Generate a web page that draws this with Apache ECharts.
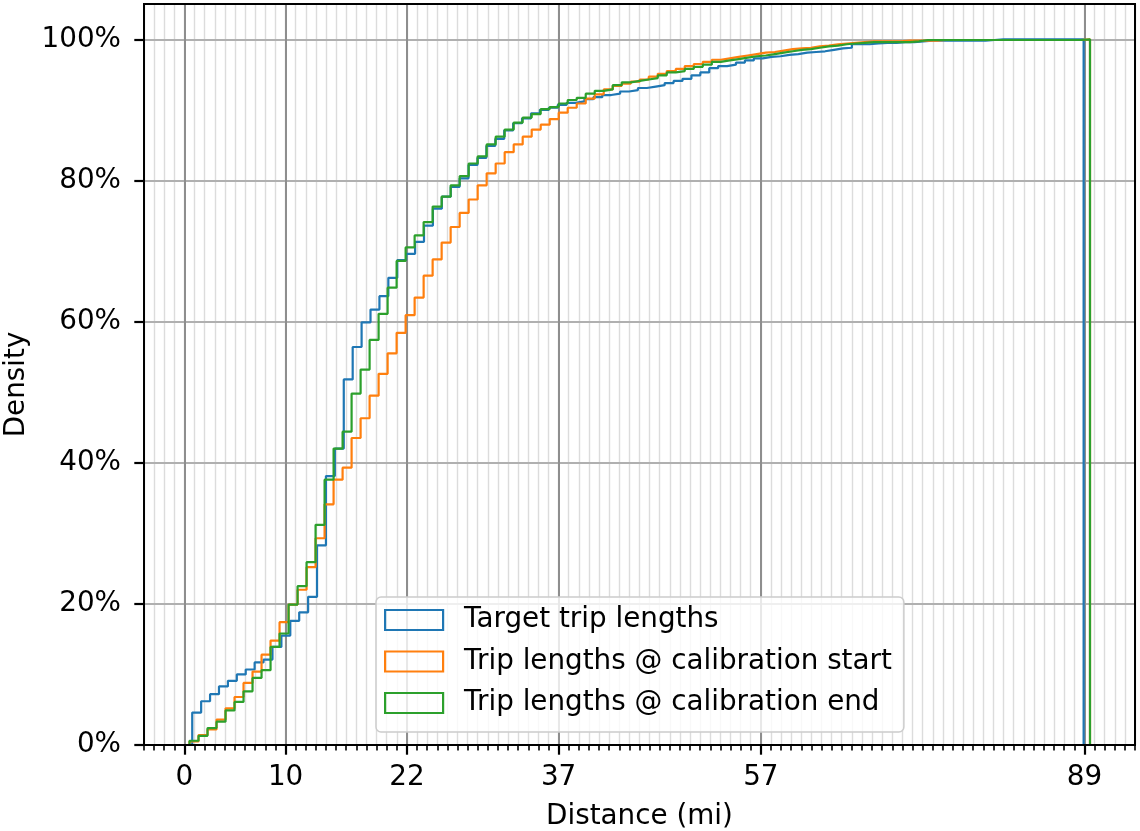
<!DOCTYPE html>
<html>
<head>
<meta charset="utf-8">
<script src="https://cdn.jsdelivr.net/npm/echarts@6/dist/echarts.min.js"></script>
<style>
html,body{margin:0;padding:0;background:#fff;}
#c{width:1140px;height:831px;}
</style>
</head>
<body>
<div id="c"></div>
<script>
// ---- data (cumulative share, %, per histogram bin) ----
const seriesNames = ['Target trip lengths', 'Trip lengths @ calibration start', 'Trip lengths @ calibration end'];
const binStart = [0.77, 0.50, 0.50];      // first bin edge (mi)
const binWidth = [0.8815, 0.8905, 0.8905]; // bin width (mi)
const targetCum = [
  4.6, 6.2, 7.2, 8.3, 9.1, 10.0, 10.7, 11.7, 12.1, 13.9,
  15.5, 17.6, 18.8, 21.0, 28.3, 38.1, 42.0, 51.8, 56.4, 59.9,
  61.7, 63.6, 66.2, 68.7, 69.6, 71.3, 73.6, 76.0, 77.7, 79.1,
  80.3, 82.2, 83.2, 84.9, 85.9, 87.1, 88.1, 88.8, 89.5, 90.0,
  90.3, 90.7, 91.0, 91.2, 91.5, 91.8, 92.1, 92.3, 92.6, 92.8,
  93.1, 93.3, 93.5, 93.8, 94.1, 94.4, 94.9, 95.3, 95.9, 96.2,
  96.4, 96.7, 97.0, 97.3, 97.5, 97.6, 97.8, 97.9, 98.1, 98.2,
  98.3, 98.5, 98.7, 98.8, 99.3, 99.3, 99.4, 99.5, 99.5, 99.6,
  99.6, 99.7, 99.8, 99.8, 99.8, 99.8, 99.8, 99.8, 99.8, 99.9,
  100, 100, 100, 100, 100, 100, 100, 100, 100, 100
];
const calStartCum = [
  0.5, 1.4, 2.2, 3.6, 5.2, 6.8, 8.8, 10.4, 12.8, 14.8,
  17.4, 19.9, 22.0, 25.2, 29.3, 34.1, 37.6, 39.3, 43.5, 46.3,
  49.5, 52.6, 55.5, 58.4, 60.9, 63.4, 66.5, 68.8, 71.2, 73.4,
  75.4, 77.3, 79.3, 81.0, 82.4, 84.0, 85.1, 86.2, 87.2, 87.9,
  88.7, 89.6, 90.3, 90.9, 91.6, 92.2, 92.9, 93.4, 93.7, 94.0,
  94.3, 94.7, 95.1, 95.5, 95.8, 96.2, 96.5, 96.8, 97.1, 97.3,
  97.5, 97.7, 97.9, 98.1, 98.2, 98.4, 98.6, 98.7, 98.8, 99.0,
  99.1, 99.3, 99.4, 99.5, 99.6, 99.7, 99.7, 99.7, 99.7, 99.8,
  99.8, 99.8, 99.8, 99.9, 99.9, 99.9, 99.9, 99.9, 99.9, 99.9,
  99.9, 99.9, 99.9, 99.9, 99.9, 99.9, 99.9, 99.9, 99.9, 100
];
const calEndCum = [
  0.6, 1.3, 2.4, 3.3, 4.9, 6.1, 7.6, 9.5, 10.6, 13.9,
  15.8, 19.9, 22.5, 25.9, 31.2, 37.6, 42.0, 44.4, 49.8, 53.2,
  57.4, 61.1, 64.8, 68.6, 70.5, 72.2, 74.1, 76.3, 77.7, 79.3,
  80.6, 82.4, 83.4, 85.1, 86.2, 87.2, 88.2, 88.9, 89.4, 90.1,
  90.4, 90.9, 91.4, 91.7, 92.3, 92.7, 92.9, 93.5, 93.9, 94.1,
  94.3, 94.5, 94.9, 95.3, 95.5, 95.8, 96.1, 96.4, 96.8, 97.0,
  97.2, 97.4, 97.6, 97.7, 97.9, 98.1, 98.3, 98.5, 98.6, 98.8,
  99.0, 99.1, 99.3, 99.4, 99.5, 99.6, 99.6, 99.6, 99.6, 99.6,
  99.7, 99.9, 99.9, 99.9, 99.9, 99.9, 99.9, 99.9, 99.9, 99.9,
  99.9, 99.9, 99.9, 99.9, 99.9, 99.9, 99.9, 99.9, 99.9, 100
];
const xTickValues = [0, 10, 22, 37, 57, 89];
const yTickValues = [0, 0.2, 0.4, 0.6, 0.8, 1.0];
const colors = ['#1f77b4', '#ff7f0e', '#2ca02c'];
const allCum = [targetCum, calStartCum, calEndCum];

// cumulative step outline: (edge0,0) -> each bin top -> back to 0 at last edge
function stepPoints(start, width, cum) {
  const pts = [[start, 0]];
  for (let i = 0; i < cum.length; i++) {
    pts.push([start + (i + 1) * width, cum[i] / 100]);
  }
  pts.push([start + cum.length * width, 0]);
  return pts;
}

const FONT = 'DejaVu Sans';
const FS = 27.8;
const gridRect = { left: 144, top: 4, width: 991, height: 741 };

const chart = echarts.init(document.getElementById('c'), null, { renderer: 'canvas' });
chart.setOption({
  animation: false,
  backgroundColor: '#ffffff',
  textStyle: { fontFamily: FONT },
  grid: [
    Object.assign({ show: true, borderColor: '#000000', borderWidth: 2, backgroundColor: 'transparent', z: 5,
                    containLabel: false, outerBoundsMode: 'none' }, gridRect),
    Object.assign({ show: false, containLabel: false, outerBoundsMode: 'none' }, gridRect)
  ],
  xAxis: [
    {
      type: 'value', gridIndex: 0, min: -4, max: 94, interval: 1, z: 0,
      axisLine: { show: false, onZero: false },
      axisTick: { show: true, inside: false, length: 5.6, lineStyle: { color: '#000', width: 1.6 } },
      axisLabel: { show: false },
      splitLine: { show: true, lineStyle: { color: '#dcdcdc', width: 1.4, type: 'solid' } }
    },
    {
      type: 'value', gridIndex: 1, min: -4, max: 94, interval: 1, z: 1,
      axisLine: { show: false, onZero: false },
      axisTick: { show: true, inside: false, customValues: xTickValues, length: 9.7, lineStyle: { color: '#000', width: 2.2 } },
      axisLabel: { show: true, customValues: xTickValues, fontSize: FS, color: '#000', fontFamily: FONT, margin: 19 },
      splitLine: { show: true, lineStyle: { color: '#8e8e8e', width: 2, type: 'solid' } },
      name: 'Distance (mi)', nameLocation: 'middle', nameGap: 58,
      nameTextStyle: { fontSize: FS, color: '#000', fontFamily: FONT }
    }
  ],
  yAxis: [
    {
      type: 'value', gridIndex: 0, min: 0, max: 1.05, z: 1,
      axisLine: { show: false, onZero: false },
      axisTick: { show: true, inside: false, customValues: yTickValues, length: 9.7, lineStyle: { color: '#000', width: 2.2 } },
      axisLabel: {
        show: true, customValues: yTickValues, fontSize: FS, color: '#000', fontFamily: FONT, margin: 23,
        formatter: v => Math.round(v * 100) + '%'
      },
      splitLine: { show: true, lineStyle: { color: '#b0b0b0', width: 2, type: 'solid' } },
      name: 'Density', nameLocation: 'middle', nameGap: 103,
      nameTextStyle: { fontSize: FS, color: '#000', fontFamily: FONT, padding: [0, 20, 0, 0] }
    },
    { type: 'value', gridIndex: 1, min: 0, max: 1.05, show: false, axisLine: { onZero: false } }
  ],
  legend: {
    orient: 'vertical', left: 376, top: 597, z: 10,
    itemWidth: 58, itemHeight: 20, itemGap: 11.5,
    padding: [8, 12, 14, 8],
    backgroundColor: 'rgba(255,255,255,0.8)',
    borderColor: '#cccccc', borderWidth: 1.5, borderRadius: 5,
    symbolKeepAspect: false,
    textStyle: { fontSize: FS, color: '#000', fontFamily: FONT, lineHeight: 30, padding: [0, 0, 0, 16] },
    data: seriesNames.map((n, i) => ({
      name: n, icon: 'rect',
      itemStyle: { color: 'rgba(255,255,255,0)', borderColor: colors[i], borderWidth: 2.2 }
    }))
  },
  series: allCum.map((cum, i) => ({
    name: seriesNames[i],
    type: 'line',
    xAxisIndex: 0, yAxisIndex: 0,
    step: 'start',
    showSymbol: false, symbol: 'none',
    color: colors[i],
    lineStyle: { color: colors[i], width: 2.2 },
    itemStyle: { color: colors[i] },
    z: 2 + i,
    data: stepPoints(binStart[i], binWidth[i], cum)
  }))
});
</script>
</body>
</html>
